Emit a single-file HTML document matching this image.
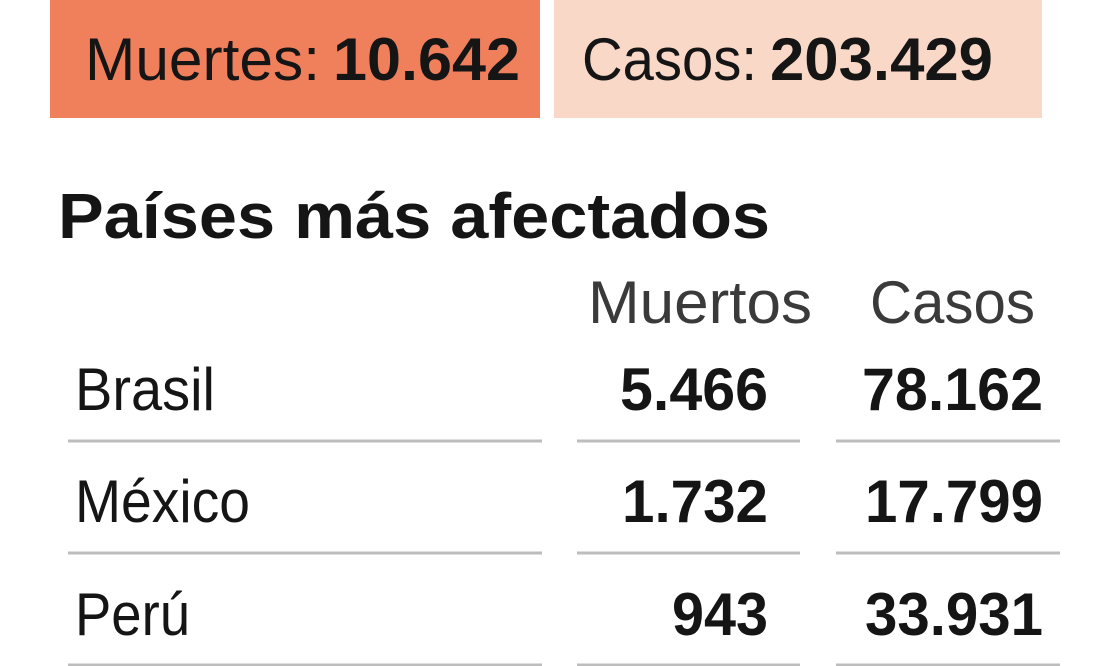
<!DOCTYPE html>
<html><head><meta charset="utf-8"><style>
html,body{margin:0;padding:0;background:#fff;width:1094px;height:666px;overflow:hidden}
svg{display:block}
text{font-family:"Liberation Sans",sans-serif;fill:#151515}
.b{font-weight:bold}
</style></head><body>
<svg width="1094" height="666" viewBox="0 0 1094 666">
<rect x="50" y="0" width="490" height="118" fill="#F07F5C"/>
<rect x="554" y="0" width="488" height="118" fill="#FAD8C8"/>
<text x="85" y="80" font-size="60" textLength="235" lengthAdjust="spacingAndGlyphs">Muertes:</text>
<text x="333" y="80" font-size="60" class="b" textLength="187" lengthAdjust="spacingAndGlyphs">10.642</text>
<text x="582" y="80" font-size="60" textLength="175" lengthAdjust="spacingAndGlyphs">Casos:</text>
<text x="770" y="80" font-size="60" class="b" textLength="223" lengthAdjust="spacingAndGlyphs">203.429</text>
<text x="58" y="238" font-size="64" class="b" textLength="712" lengthAdjust="spacingAndGlyphs">Países más afectados</text>
<text x="588" y="323" font-size="60" style="fill:#3a3a3a" textLength="224" lengthAdjust="spacingAndGlyphs">Muertos</text>
<text x="870" y="323" font-size="60" style="fill:#3a3a3a" textLength="165" lengthAdjust="spacingAndGlyphs">Casos</text>
<text x="75" y="410" font-size="60" textLength="140" lengthAdjust="spacingAndGlyphs">Brasil</text>
<text x="620" y="410" font-size="60" class="b" textLength="148" lengthAdjust="spacingAndGlyphs">5.466</text>
<text x="862" y="410" font-size="60" class="b" textLength="181" lengthAdjust="spacingAndGlyphs">78.162</text>
<text x="75" y="522" font-size="60" textLength="175" lengthAdjust="spacingAndGlyphs">México</text>
<text x="622" y="522" font-size="60" class="b" textLength="146" lengthAdjust="spacingAndGlyphs">1.732</text>
<text x="865" y="522" font-size="60" class="b" textLength="178" lengthAdjust="spacingAndGlyphs">17.799</text>
<text x="75" y="635" font-size="60" textLength="115" lengthAdjust="spacingAndGlyphs">Perú</text>
<text x="672" y="635" font-size="60" class="b" textLength="96" lengthAdjust="spacingAndGlyphs">943</text>
<text x="865" y="635" font-size="60" class="b" textLength="178" lengthAdjust="spacingAndGlyphs">33.931</text>
<g stroke="#bdbdbd" stroke-width="3">
<line x1="68" y1="441" x2="542" y2="441"/><line x1="577" y1="441" x2="800" y2="441"/><line x1="836" y1="441" x2="1060" y2="441"/>
<line x1="68" y1="553" x2="542" y2="553"/><line x1="577" y1="553" x2="800" y2="553"/><line x1="836" y1="553" x2="1060" y2="553"/>
<line x1="68" y1="665" x2="542" y2="665"/><line x1="577" y1="665" x2="800" y2="665"/><line x1="836" y1="665" x2="1060" y2="665"/>
</g>
</svg>
</body></html>
